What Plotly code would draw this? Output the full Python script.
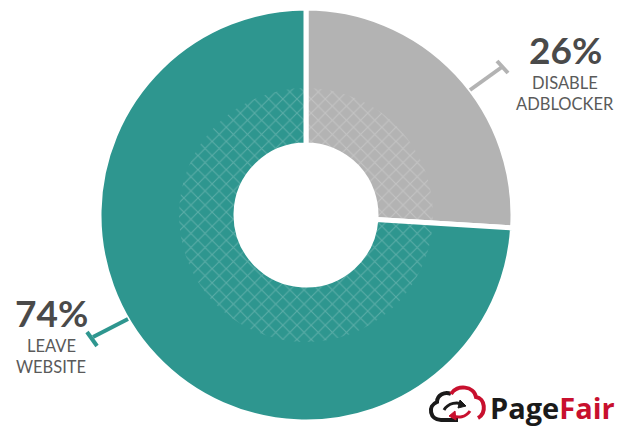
import plotly.graph_objects as go

labels = ["DISABLE ADBLOCKER", "LEAVE WEBSITE"]
values = [26, 74]
colors = ["#b3b3b3", "#2e968f"]
pct_text = ["26%", "74%"]

W, H = 619, 427
cx, cy, R = 306, 215, 207
r_pat, r_hole = 127, 70

def dom(r):
    return dict(x=[(cx - r) / W, (cx + r) / W], y=[(H - cy - r) / H, (H - cy + r) / H])

fig = go.Figure()
fig.add_trace(go.Pie(
    labels=labels, values=values, sort=False, direction="clockwise", rotation=0,
    hole=r_hole / R, domain=dom(R), textinfo="none", hoverinfo="label+percent",
    marker=dict(colors=colors, line=dict(color="white", width=5)), showlegend=False,
))
fig.add_trace(go.Pie(
    labels=labels, values=values, sort=False, direction="clockwise", rotation=0,
    hole=r_hole / r_pat, domain=dom(r_pat), textinfo="none", hoverinfo="skip",
    marker=dict(colors=["rgba(0,0,0,0)"] * len(values), line=dict(width=0),
                pattern=dict(shape="x", fgcolor="rgba(255,255,255,0.42)",
                             bgcolor="rgba(0,0,0,0)", size=10, solidity=0.2,
                             fillmode="overlay")),
    showlegend=False,
))

fig.update_xaxes(range=[0, W], visible=False, fixedrange=True)
fig.update_yaxes(range=[H, 0], visible=False, fixedrange=True)

shapes = []
def leader(p0, p1, c0, c1, col):
    shapes.append(dict(type="line", x0=p0[0], y0=p0[1], x1=p1[0], y1=p1[1],
                       line=dict(color=col, width=4), xref="x", yref="y"))
    shapes.append(dict(type="line", x0=c0[0], y0=c0[1], x1=c1[0], y1=c1[1],
                       line=dict(color=col, width=4), xref="x", yref="y"))

leader((470, 90), (502, 67), (497, 61), (508, 73), colors[0])
leader((128, 319), (93, 337), (87, 332), (97, 346), colors[1])

# PageFair cloud logo
shapes.append(dict(type="path", xref="x", yref="y",
                   path="M 458,420 L 441,420 C 430,420 427,406 437,402 C 437,395 445,391 451,394",
                   line=dict(color="#1a1a1a", width=4)))
shapes.append(dict(type="path", xref="x", yref="y",
                   path="M 451,394 C 457,384 474,386 476,397 C 485,398 487,413 478,418",
                   line=dict(color="#c8102e", width=4)))
shapes.append(dict(type="path", xref="x", yref="y",
                   path="M 444,410 C 448,403 458,401 463,405",
                   line=dict(color="#1a1a1a", width=3)))
shapes.append(dict(type="path", xref="x", yref="y",
                   path="M 460,400 L 466,406 L 458,408 Z", fillcolor="#1a1a1a",
                   line=dict(color="#1a1a1a", width=1)))
shapes.append(dict(type="path", xref="x", yref="y",
                   path="M 470,411 C 466,417 458,419 452,415",
                   line=dict(color="#c8102e", width=3)))
shapes.append(dict(type="path", xref="x", yref="y",
                   path="M 455,411 L 449,416 L 456,420 Z", fillcolor="#c8102e",
                   line=dict(color="#c8102e", width=1)))
fig.update_layout(shapes=shapes)

big = dict(family="Lato", size=37, color="#4a4a4a")
small = dict(family="Lato", size=16.5, color="#5a5a5a")
ann = []
def t(x, y, s, f, anchor="center"):
    ann.append(dict(x=x, y=y, xref="x", yref="y", text=s, showarrow=False,
                    font=f, xanchor=anchor, yanchor="middle"))

t(565, 49, "<b>" + pct_text[0] + "</b>", big)
t(565, 83, "DISABLE", small)
t(565, 104, "ADBLOCKER", small)
t(51, 312, "<b>" + pct_text[1] + "</b>", big)
t(51, 346, "LEAVE", small)
t(51, 367, "WEBSITE", small)
t(617, 407, "<b>Page<span style='color:#c8102e'>Fair</span></b>",
  dict(family="Open Sans", size=29, color="#1a1a1a"), anchor="right")
fig.update_layout(annotations=ann)

fig.update_layout(width=W, height=H, margin=dict(l=0, r=0, t=0, b=0),
                  paper_bgcolor="white", plot_bgcolor="white")
fig.write_html("out.html", config={"displayModeBar": False},
               post_script="document.body.style.margin='0';document.body.style.overflow='hidden';")
